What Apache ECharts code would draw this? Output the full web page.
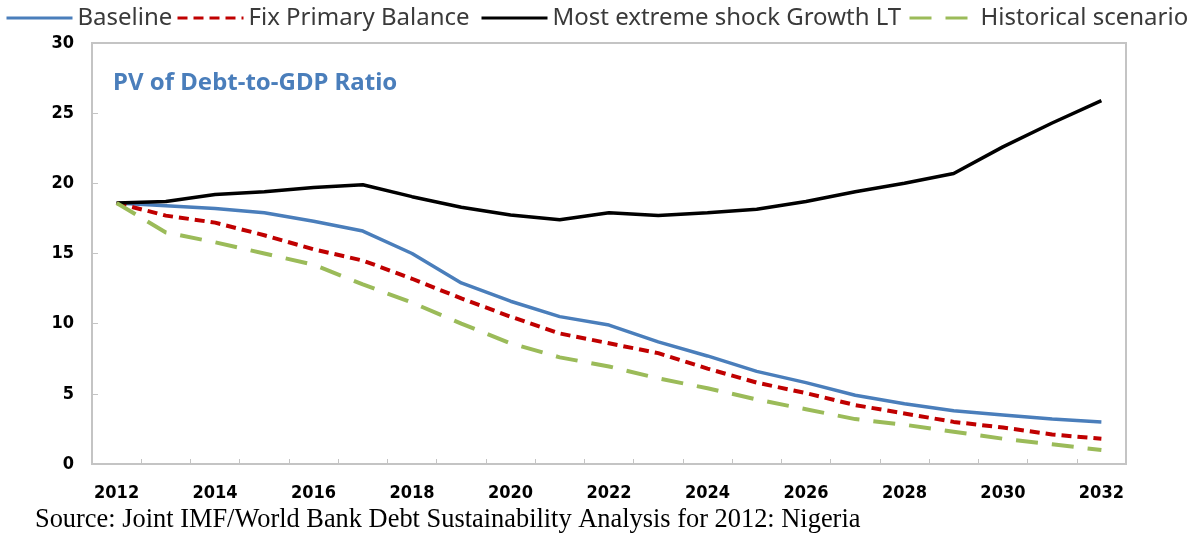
<!DOCTYPE html>
<html>
<head>
<meta charset="utf-8">
<script src="https://cdn.jsdelivr.net/npm/echarts@6/dist/echarts.min.js"></script>
<style>
  html, body { margin: 0; padding: 0; background: #ffffff; }
  #chart { width: 1195px; height: 535px; }
</style>
</head>
<body>
<div id="chart"></div>
<script>
// PV of debt-to-GDP ratio, Nigeria DSA 2012 (percent)
const years = ['2012','2013','2014','2015','2016','2017','2018','2019','2020','2021','2022',
               '2023','2024','2025','2026','2027','2028','2029','2030','2031','2032'];
const baseline      = [18.6, 18.4, 18.2, 17.9, 17.3, 16.6, 15.0, 12.9, 11.6, 10.5, 9.9,
                       8.7, 7.7, 6.6, 5.8, 4.9, 4.3, 3.8, 3.5, 3.2, 3.0];
const fixPrimary    = [18.6, 17.7, 17.2, 16.3, 15.3, 14.5, 13.2, 11.8, 10.5, 9.3, 8.6,
                       7.9, 6.8, 5.8, 5.05, 4.2, 3.6, 3.0, 2.6, 2.1, 1.8];
const extremeShock  = [18.6, 18.7, 19.2, 19.4, 19.7, 19.9, 19.05, 18.3, 17.75, 17.4, 17.9,
                       17.7, 17.9, 18.15, 18.7, 19.4, 20.0, 20.7, 22.6, 24.3, 25.9];
const historical    = [18.6, 16.5, 15.8, 15.0, 14.2, 12.8, 11.5, 10.0, 8.6, 7.6, 6.95,
                       6.1, 5.4, 4.6, 3.9, 3.2, 2.8, 2.3, 1.8, 1.4, 1.0];
const seriesNames = ['Baseline', 'Fix Primary Balance', 'Most extreme shock Growth LT', 'Historical scenario'];
const yTicks = { min: 0, max: 30, step: 5 };

const chart = echarts.init(document.getElementById('chart'));

function lineSeries(name, data, color, width, type) {
  return {
    name: name,
    type: 'line',
    data: data,
    symbol: 'none',
    smooth: false,
    lineStyle: { color: color, width: width, type: type, cap: 'butt' },
    itemStyle: { color: color }
  };
}

// one legend per entry so the row spreads across the full width
const legendLeft = [5, 176, 480, 908];
const legends = seriesNames.map((name, i) => ({
  data: [name],
  left: legendLeft[i],
  top: 6,
  padding: 0,
  itemWidth: 66,
  itemHeight: 14,
  itemStyle: { opacity: 0 },
  lineStyle: { width: 3 },
  textStyle: { color: '#3a3a3a', fontFamily: 'Noto Sans', fontSize: 24 }
}));

chart.setOption({
  animation: false,
  backgroundColor: '#ffffff',
  title: {
    text: 'PV of Debt-to-GDP Ratio',
    left: 108,
    top: 66,
    textStyle: { color: '#4a7ebb', fontFamily: 'Noto Sans', fontWeight: 'bold', fontSize: 24 }
  },
  legend: legends,
  grid: { left: 92, right: 69, top: 43, bottom: 71, show: true, borderColor: '#c4c4c4', borderWidth: 2 },
  xAxis: {
    type: 'category',
    data: years,
    boundaryGap: true,
    axisLine: { lineStyle: { color: '#c4c4c4', width: 2 } },
    axisTick: { show: true, inside: true, interval: 0, length: 5, lineStyle: { color: '#c4c4c4', width: 1 } },
    axisLabel: {
      interval: 1,
      margin: 20,
      color: '#000000',
      fontFamily: 'DejaVu Sans Condensed, DejaVu Sans',
      fontWeight: 'bold',
      fontSize: 18
    },
    splitLine: { show: false }
  },
  yAxis: {
    type: 'value',
    min: yTicks.min,
    max: yTicks.max,
    interval: yTicks.step,
    axisLine: { show: true, lineStyle: { color: '#c4c4c4', width: 2 } },
    axisTick: { show: true, inside: true, length: 6, lineStyle: { color: '#c4c4c4', width: 1 } },
    axisLabel: {
      margin: 18,
      color: '#000000',
      fontFamily: 'DejaVu Sans Condensed, DejaVu Sans',
      fontWeight: 'bold',
      fontSize: 18
    },
    splitLine: { show: false }
  },
  series: [
    lineSeries(seriesNames[0], baseline, '#4a7ebb', 3.5, 'solid'),
    lineSeries(seriesNames[1], fixPrimary, '#c00000', 4, [10, 6]),
    lineSeries(seriesNames[2], extremeShock, '#000000', 3.5, 'solid'),
    lineSeries(seriesNames[3], historical, '#9bbb59', 4, [22, 14])
  ],
  graphic: [{
    type: 'text',
    left: 35,
    top: 507,
    style: {
      text: 'Source: Joint IMF/World Bank Debt Sustainability Analysis for 2012: Nigeria',
      fill: '#000000',
      font: '26.4px "Liberation Serif", "Times New Roman", serif'
    }
  }]
});
</script>
</body>
</html>
